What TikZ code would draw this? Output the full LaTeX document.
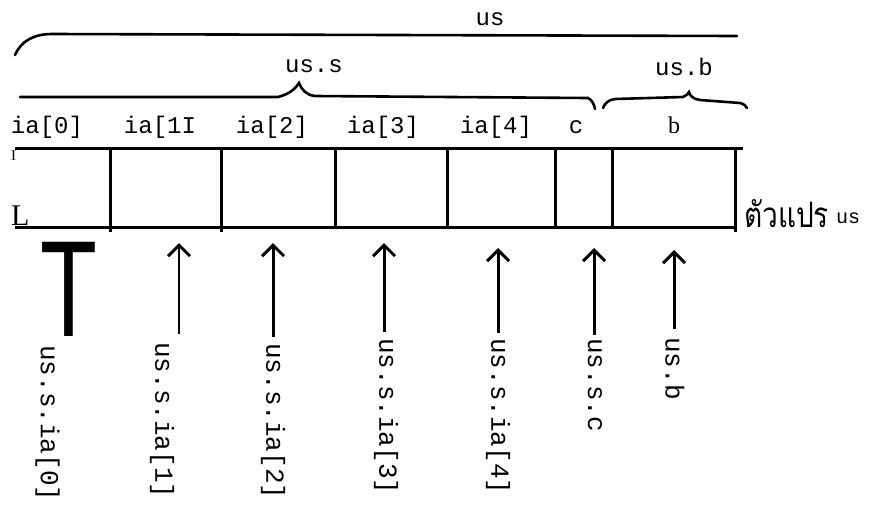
\documentclass[tikz,border=0pt]{standalone}
\usepackage{fontspec}
\setmainfont{Liberation Serif}
\setmonofont{Liberation Mono}
\newfontfamily\thaifont[Script=Thai]{Loma}
\newfontfamily\sansT{Liberation Sans}
\usetikzlibrary{arrows.meta}
\begin{document}
\begin{tikzpicture}[x=1pt,y=-1pt,
  lbl/.style={font=\fontsize{24}{24}\selectfont\ttfamily, inner sep=0pt, anchor=base},
  vlbl/.style={font=\fontsize{26}{26}\selectfont\ttfamily, inner sep=0pt, rotate=-90, anchor=west},
  ptr/.style={line width=3pt, -{Straight Barb[length=11pt,width=22pt]}},
  thinptr/.style={line width=2pt, -{Straight Barb[length=11pt,width=22pt,line width=3pt]}},
  boxline/.style={line width=3pt},
  bracel/.style={line width=2.6pt, line cap=round}
]
\useasboundingbox (0,0) rectangle (875,504);
% top labels
\node[lbl] (us) at (490,25) {us};
\node[lbl] (uss) at (314,72) {us.s};
\node[lbl] (usb) at (684,75) {us.b};
% braces
\draw[bracel] (15,55) .. controls (21,41) and (34,34) .. (52,34) -- (737,36);
\draw[bracel] (20,97) -- (278,97) .. controls (290,94) and (296,88) .. (299,83)
  .. controls (302,90) and (306,95) .. (315,96) -- (588,98)
  .. controls (592,100) and (594,104) .. (595,109);
\draw[bracel] (603,108) .. controls (605,103) and (608,100) .. (615,99) -- (683,97)
  .. controls (686,96) and (688,94) .. (689,92)
  .. controls (690,96) and (693,99) .. (700,100) -- (740,103)
  .. controls (744,104) and (746,106) .. (747,108);
% field labels
\node[lbl] (f0) at (47,133) {ia[0]};
\node[lbl] (f1) at (160,133) {ia[1I};
\node[lbl] (f2) at (272,133) {ia[2]};
\node[lbl] (f3) at (383,133) {ia[3]};
\node[lbl] (f4) at (496,133) {ia[4]};
\node[lbl] (fc) at (576,133) {c};
\node[font=\fontsize{24}{24}\selectfont, inner sep=0pt, anchor=base] (fb) at (674,133) {b};
% box
\draw[boxline] (15,148) -- (743,148);
\draw[boxline] (15,227) -- (736,227);
\foreach \x/\b in {110.5/232,221/232,335/228,447/228,555/228,612.5/228,735/232}
  \draw[boxline] (\x,149) -- (\x,\b);
\node[font=\fontsize{15}{15}\selectfont, inner sep=0pt, anchor=base] (smI) at (13.5,160) {I};
\node[font=\fontsize{30}{30}\selectfont, inner sep=0pt, anchor=base west] (smL) at (11,225) {L};
% variable label
\node[font=\thaifont\fontsize{28}{28}\selectfont, yscale=1.25, inner sep=0pt, anchor=base west] (thai) at (744,227) {ตัวแปร};
\node[font=\fontsize{20}{20}\selectfont\ttfamily, inner sep=0pt, anchor=base west] (usv) at (836,223) {us};
% big T
\node[font=\sansT\fontsize{137}{137}\selectfont, xscale=0.68, inner sep=0pt, anchor=base] (bigT) at (68.5,336) {T};
% vertical labels
\node[vlbl] (v0) at (47.5,345) {us.s.ia[0]};
\node[vlbl] (v1) at (162,342) {us.s.ia[1]};
\node[vlbl] (v2) at (273,343) {us.s.ia[2]};
\node[vlbl] (v3) at (386,338) {us.s.ia[3]};
\node[vlbl] (v4) at (498,338) {us.s.ia[4]};
\node[vlbl] (vc) at (595,338) {us.s.c};
\node[vlbl] (vb) at (675,337) {us.b};
% arrow tips
\coordinate (t1) at (179,243);
\coordinate (t2) at (273,243);
\coordinate (t3) at (384,243);
\coordinate (t4) at (498,248);
\coordinate (tc) at (594,248);
\coordinate (tb) at (674,250);
\draw[thinptr] (t1 |- v1.west) ++(0,-8) -- (t1);
\draw[ptr] (t2 |- v2.west) ++(0,-6) -- (t2);
\draw[ptr] (t3 |- v3.west) ++(0,-6) -- (t3);
\draw[ptr] (t4 |- v4.west) ++(0,-5) -- (t4);
\draw[ptr] (tc |- vc.west) ++(0,-3) -- (tc);
\draw[ptr] (tb |- vb.west) ++(0,-8) -- (tb);
\end{tikzpicture}
\end{document}
